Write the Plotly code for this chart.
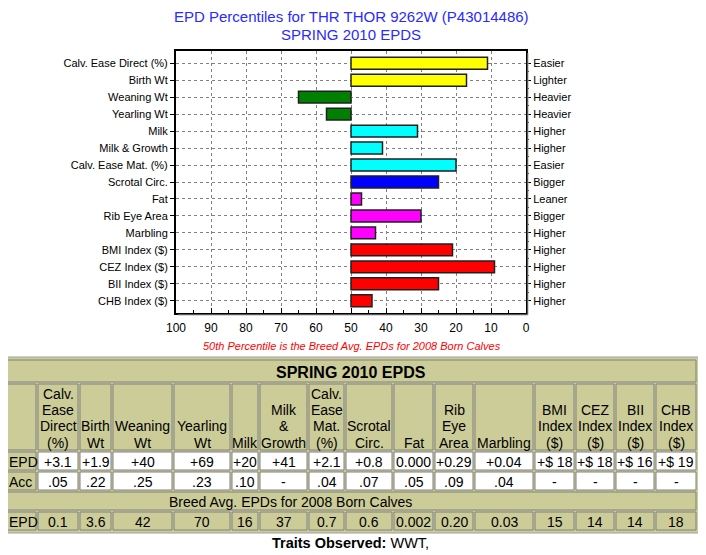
import plotly.graph_objects as go

# ---------------- data ----------------
traits = ["Calv. Ease Direct (%)", "Birth Wt", "Weaning Wt", "Yearling Wt", "Milk",
          "Milk & Growth", "Calv. Ease Mat. (%)", "Scrotal Circ.", "Fat", "Rib Eye Area",
          "Marbling", "BMI Index ($)", "CEZ Index ($)", "BII Index ($)", "CHB Index ($)"]
percentiles = [11, 17, 65, 57, 31, 41, 20, 25, 47, 30, 43, 21, 9, 25, 44]
directions = ["Easier", "Lighter", "Heavier", "Heavier", "Higher", "Higher", "Easier",
              "Bigger", "Leaner", "Bigger", "Higher", "Higher", "Higher", "Higher", "Higher"]
bar_colors = ["#ffff00", "#ffff00", "#008000", "#008000", "#00ffff", "#00ffff", "#00ffff",
              "#0000ff", "#ff00ff", "#ff00ff", "#ff00ff", "#ff0000", "#ff0000", "#ff0000", "#ff0000"]
breed_avg_pct = 50
x_ticks = [100, 90, 80, 70, 60, 50, 40, 30, 20, 10, 0]

table_title = "SPRING 2010 EPDS"
col_headers = ["Calv.\nEase\nDirect\n(%)", "Birth\nWt", "Weaning\nWt", "Yearling\nWt", "Milk",
               "Milk\n&\nGrowth", "Calv.\nEase\nMat.\n(%)", "Scrotal\nCirc.", "Fat",
               "Rib\nEye\nArea", "Marbling", "BMI\nIndex\n($)", "CEZ\nIndex\n($)",
               "BII\nIndex\n($)", "CHB\nIndex\n($)"]
epd_values = ["+3.1", "+1.9", "+40", "+69", "+20", "+41", "+2.1", "+0.8", "0.000", "+0.29",
              "+0.04", "+$ 18", "+$ 18", "+$ 16", "+$ 19"]
acc_values = [".05", ".22", ".25", ".23", ".10", "-", ".04", ".07", ".05", ".09", ".04",
              "-", "-", "-", "-"]
breed_label = "Breed Avg. EPDs for 2008 Born Calves"
breed_values = ["0.1", "3.6", "42", "70", "16", "37", "0.7", "0.6", "0.002", "0.20", "0.03",
                "15", "14", "14", "18"]
traits_observed = "WWT,"

# ---------------- layout geometry (pixels in the screenshot) ----------------
OFF = 8                     # default page body margin
W, H = 706 - OFF, 555 - OFF
PL, PR, PT, PB = 176, 526, 51, 313   # plot area in screenshot pixels


def fx(px):
    return (px - PL) / (PR - PL)


def fy(py):
    return (PB - py) / (PB - PT)


FONT = "Liberation Sans, Arial, sans-serif"
idx = list(range(len(traits)))

fig = go.Figure()
fig.add_trace(go.Bar(
    y=idx, x=[p - breed_avg_pct for p in percentiles], base=breed_avg_pct,
    orientation="h", width=0.7,
    marker=dict(color=bar_colors, line=dict(color="#202020", width=1.5)),
    hoverinfo="skip", showlegend=False,
))
fig.add_trace(go.Scatter(
    y=idx, x=[breed_avg_pct] * len(idx), yaxis="y2", mode="markers",
    marker=dict(opacity=0), hoverinfo="skip", showlegend=False,
))

yr = [len(traits) - 1 + 0.72, -0.72]
fig.update_layout(
    width=W, height=H,
    margin=dict(l=PL - OFF, r=706 - PR, t=PT - OFF, b=555 - PB, pad=0),
    paper_bgcolor="white", plot_bgcolor="white",
    font=dict(family=FONT, color="black"),
    xaxis=dict(
        range=[100, 0], tickvals=x_ticks, ticktext=[str(v) for v in x_ticks],
        showgrid=True, gridcolor="#808080", griddash="3px,3px", gridwidth=1,
        showline=True, linecolor="black", linewidth=2, mirror=True,
        ticks="inside", ticklen=5, tickcolor="black", tickwidth=1,
        minor=dict(dtick=5, ticks="inside", ticklen=3, tickcolor="black", showgrid=False),
        tickfont=dict(size=12), ticklabelstandoff=3, zeroline=False, fixedrange=True,
    ),
    yaxis=dict(
        range=yr, tickvals=idx, ticktext=traits,
        showgrid=True, gridcolor="#808080", griddash="3px,3px", gridwidth=1,
        showline=True, linecolor="black", linewidth=2, mirror=True,
        ticks="outside", ticklen=4, tickcolor="black",
        tickfont=dict(size=11), zeroline=False, fixedrange=True,
    ),
    yaxis2=dict(
        range=yr, tickvals=idx, ticktext=directions, overlaying="y", side="right",
        showgrid=False, showline=False, ticks="outside", ticklen=4, tickcolor="black",
        minor=dict(tickvals=[i + 0.5 for i in idx[:-1]], ticks="outside", ticklen=2,
                   tickcolor="black"),
        tickfont=dict(size=11), zeroline=False, fixedrange=True,
    ),
)

annotations = []
shapes = []

# soft shadow along the bottom and right of the plot frame
shapes.append(dict(type="line", xref="paper", yref="paper", x0=fx(PL + 2), x1=fx(PR + 2),
                   y0=fy(PB + 2), y1=fy(PB + 2), line=dict(color="#b0b0b0", width=1)))
shapes.append(dict(type="line", xref="paper", yref="paper", x0=fx(PR + 2), x1=fx(PR + 2),
                   y0=fy(PT + 2), y1=fy(PB + 2), line=dict(color="#b0b0b0", width=1)))

# chart title
annotations.append(dict(text="EPD Percentiles for THR THOR 9262W (P43014486)",
                        x=fx(351), y=fy(17), xref="paper", yref="paper", showarrow=False,
                        xanchor="center", yanchor="middle",
                        font=dict(size=15, color="#2a2aff", family=FONT)))
annotations.append(dict(text="SPRING 2010 EPDS",
                        x=fx(351), y=fy(35), xref="paper", yref="paper", showarrow=False,
                        xanchor="center", yanchor="middle",
                        font=dict(size=15, color="#2a2aff", family=FONT)))
# red note
annotations.append(dict(text="<i>50th Percentile is the Breed Avg. EPDs for 2008 Born Calves</i>",
                        x=fx(352), y=fy(346), xref="paper", yref="paper", showarrow=False,
                        xanchor="center", yanchor="middle",
                        font=dict(size=11, color="#ff0000", family=FONT)))

# ---------------- table ----------------
col_edges = [5, 37, 79, 112, 173, 231, 259, 308, 345, 393, 434, 474, 534, 575, 615, 655, 697]
row_edges = [359, 383, 451, 471, 491, 511, 531]
KHAKI = "#cccc99"
BORDER = "#808080"
TFS = 14


def rect(x0, y0, x1, y1, fill, line=BORDER, lw=1):
    shapes.append(dict(type="rect", xref="paper", yref="paper",
                       x0=fx(x0), x1=fx(x1), y0=fy(y1), y1=fy(y0),
                       fillcolor=fill, line=dict(color=line, width=lw), layer="above"))


def text(s, x, y, size=TFS, xanchor="center", bold=False, color="black"):
    t = f"<b>{s}</b>" if bold else s
    annotations.append(dict(text=t, x=fx(x), y=fy(y), xref="paper", yref="paper",
                            showarrow=False, xanchor=xanchor, yanchor="middle",
                            font=dict(size=size, color=color, family=FONT)))


# table background
rect(3, 357, 699, 533, KHAKI, line="#a0a0a0")
tl, tr = col_edges[0], col_edges[-1]

# title row
rect(tl + 1, row_edges[0] + 1, tr - 1, row_edges[1] - 1, KHAKI)
text(table_title, (tl + tr) / 2, (row_edges[0] + row_edges[1]) / 2 + 1, size=16, bold=True)

# header row
r0, r1 = row_edges[1], row_edges[2]
for c in range(len(col_edges) - 1):
    rect(col_edges[c] + 1, r0 + 1, col_edges[c + 1] - 1, r1 - 1, KHAKI)
for j, h in enumerate(col_headers):
    lines = h.split("\n")
    cx = (col_edges[j + 1] + col_edges[j + 2]) / 2
    for k, ln in enumerate(reversed(lines)):
        text(ln, cx, r1 - 8.5 - 16.2 * k)

# EPD and Acc rows
for ri, (label, vals) in enumerate([("EPD", epd_values), ("Acc", acc_values)]):
    r0, r1 = row_edges[2 + ri], row_edges[3 + ri]
    rect(col_edges[0] + 1, r0 + 1, col_edges[1] - 1, r1 - 1, KHAKI)
    text(label, col_edges[0] + 2, (r0 + r1) / 2 + 0.5, xanchor="left")
    for j, v in enumerate(vals):
        rect(col_edges[j + 1] + 1, r0 + 1, col_edges[j + 2] - 1, r1 - 1, "white")
        text(v, (col_edges[j + 1] + col_edges[j + 2]) / 2, (r0 + r1) / 2 + 0.5)

# breed average label row
r0, r1 = row_edges[4], row_edges[5]
rect(tl + 1, r0 + 1, tr - 1, r1 - 1, KHAKI)
text(breed_label, 290, (r0 + r1) / 2 + 0.5)

# breed average EPD row
r0, r1 = row_edges[5], row_edges[6]
rect(col_edges[0] + 1, r0 + 1, col_edges[1] - 1, r1 - 1, KHAKI)
text("EPD", col_edges[0] + 2, (r0 + r1) / 2 + 0.5, xanchor="left")
for j, v in enumerate(breed_values):
    rect(col_edges[j + 1] + 1, r0 + 1, col_edges[j + 2] - 1, r1 - 1, KHAKI)
    text(v, (col_edges[j + 1] + col_edges[j + 2]) / 2, (r0 + r1) / 2 + 0.5)

# traits observed
annotations.append(dict(text="<b>Traits Observed:</b> " + traits_observed,
                        x=fx(350.5), y=fy(542.5), xref="paper", yref="paper", showarrow=False,
                        xanchor="center", yanchor="middle",
                        font=dict(size=14.5, color="black", family=FONT)))

fig.update_layout(annotations=annotations, shapes=shapes)
fig.write_html("out.html")
